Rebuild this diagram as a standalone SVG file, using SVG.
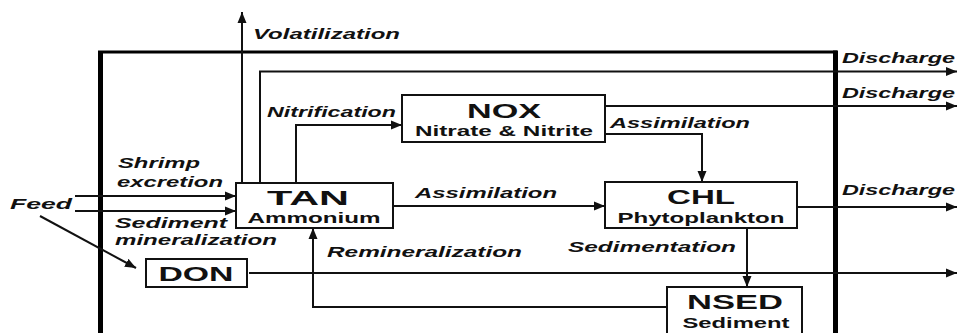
<svg xmlns="http://www.w3.org/2000/svg" width="960" height="333" viewBox="0 0 960 333">
<defs>
<marker id="ah" markerUnits="userSpaceOnUse" markerWidth="12" markerHeight="10" refX="11" refY="5" orient="auto">
<path d="M0,0.5 L11,5 L0,9.5 Z" fill="#111"/>
</marker>
</defs>
<style>
.bg{fill:#fff}
.box{fill:#fff;stroke:#111;stroke-width:2}
.ln{fill:none;stroke:#111;stroke-width:2}
.frame{fill:none;stroke:#000}
.lbl{font-family:"Liberation Sans",Arial,sans-serif;font-style:italic;font-weight:bold;font-size:15px;fill:#111}
.ttl{font-family:"Liberation Sans",Arial,sans-serif;font-weight:bold;font-size:21px;fill:#111;text-anchor:middle}
.sub{font-family:"Liberation Sans",Arial,sans-serif;font-weight:bold;font-size:15px;fill:#111;text-anchor:middle}
</style>
<rect class="bg" x="0" y="0" width="960" height="333"/>
<g id="frame">
<path class="frame" d="M100.5,333 V52" stroke-width="5"/>
<path class="frame" d="M98,52 H837" stroke-width="3"/>
<path class="frame" d="M835.5,50.5 V333" stroke-width="5"/>
</g>
<g id="connectors">
<path class="ln" d="M242,183 V12" marker-end="url(#ah)"/>
<path class="ln" d="M260,183 V71.5 H957" marker-end="url(#ah)"/>
<path class="ln" d="M296,183 V125 H402" marker-end="url(#ah)"/>
<path class="ln" d="M605,106 H957" marker-end="url(#ah)"/>
<path class="ln" d="M605,134 H702 V182" marker-end="url(#ah)"/>
<path class="ln" d="M75,196 H236" marker-end="url(#ah)"/>
<path class="ln" d="M75,211 H236" marker-end="url(#ah)"/>
<path class="ln" d="M40,216 L136,268" marker-end="url(#ah)" stroke-width="1.6"/>
<path class="ln" d="M393,206 H605" marker-end="url(#ah)"/>
<path class="ln" d="M797,207 H957" marker-end="url(#ah)"/>
<path class="ln" d="M747,228 V287" marker-end="url(#ah)"/>
<path class="ln" d="M249,273 H957" marker-end="url(#ah)"/>
<path class="ln" d="M667,307 H313 V228" marker-end="url(#ah)"/>
</g>
<g id="labels">
<text class="lbl" x="253" y="39" textLength="147" lengthAdjust="spacingAndGlyphs">Volatilization</text>
<text class="lbl" x="842" y="63" textLength="113" lengthAdjust="spacingAndGlyphs">Discharge</text>
<text class="lbl" x="842" y="98" textLength="113" lengthAdjust="spacingAndGlyphs">Discharge</text>
<text class="lbl" x="842" y="195" textLength="113" lengthAdjust="spacingAndGlyphs">Discharge</text>
<text class="lbl" x="267" y="117" textLength="129" lengthAdjust="spacingAndGlyphs">Nitrification</text>
<text class="lbl" x="610" y="128" textLength="140" lengthAdjust="spacingAndGlyphs">Assimilation</text>
<text class="lbl" x="118" y="168" textLength="82" lengthAdjust="spacingAndGlyphs">Shrimp</text>
<text class="lbl" x="117" y="187" textLength="106" lengthAdjust="spacingAndGlyphs">excretion</text>
<text class="lbl" x="10" y="209" textLength="62" lengthAdjust="spacingAndGlyphs">Feed</text>
<text class="lbl" x="115" y="228" textLength="112" lengthAdjust="spacingAndGlyphs">Sediment</text>
<text class="lbl" x="115" y="245" textLength="162" lengthAdjust="spacingAndGlyphs">mineralization</text>
<text class="lbl" x="415" y="198" textLength="142" lengthAdjust="spacingAndGlyphs">Assimilation</text>
<text class="lbl" x="327" y="257" textLength="195" lengthAdjust="spacingAndGlyphs">Remineralization</text>
<text class="lbl" x="568" y="252" textLength="168" lengthAdjust="spacingAndGlyphs">Sedimentation</text>
</g>
<g id="NOX">
<rect class="box" x="402" y="95" width="203" height="47"/>
<text class="ttl" x="504" y="118" textLength="74" lengthAdjust="spacingAndGlyphs">NOX</text>
<text class="sub" x="504" y="136" textLength="178" lengthAdjust="spacingAndGlyphs">Nitrate &amp; Nitrite</text>
</g>
<g id="TAN">
<rect class="box" x="236" y="183" width="157" height="45"/>
<text class="ttl" x="308" y="205" textLength="82" lengthAdjust="spacingAndGlyphs">TAN</text>
<text class="sub" x="314" y="223" textLength="133" lengthAdjust="spacingAndGlyphs">Ammonium</text>
</g>
<g id="CHL">
<rect class="box" x="605" y="182" width="192" height="46"/>
<text class="ttl" x="701" y="204" textLength="68" lengthAdjust="spacingAndGlyphs">CHL</text>
<text class="sub" x="701" y="223" textLength="167" lengthAdjust="spacingAndGlyphs">Phytoplankton</text>
</g>
<g id="DON">
<rect class="box" x="146" y="259" width="101" height="28"/>
<text class="ttl" x="196" y="281" textLength="75" lengthAdjust="spacingAndGlyphs">DON</text>
</g>
<g id="NSED">
<rect class="box" x="667" y="287" width="135" height="50"/>
<text class="ttl" x="735" y="309" textLength="96" lengthAdjust="spacingAndGlyphs">NSED</text>
<text class="sub" x="736" y="328" textLength="107" lengthAdjust="spacingAndGlyphs">Sediment</text>
</g>
</svg>
